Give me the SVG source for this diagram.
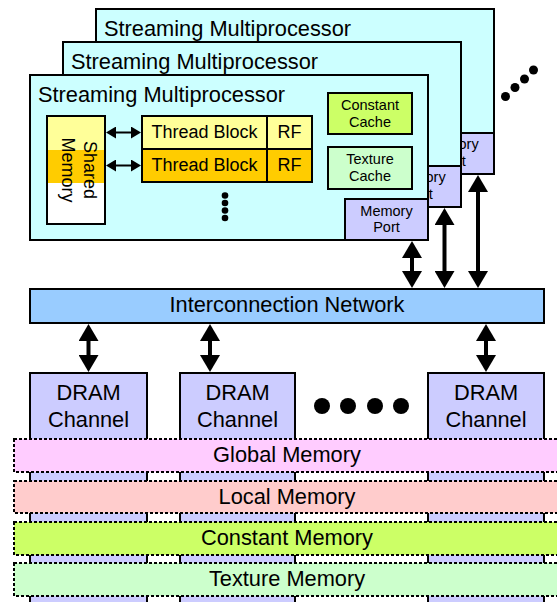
<svg xmlns="http://www.w3.org/2000/svg" width="557" height="602" viewBox="0 0 557 602">
<style>
text{font-family:"Liberation Sans",Arial,sans-serif;fill:#000}
.box{stroke:#000;stroke-width:2}
.sm{fill:#ccffff}
.port{fill:#ccccff}
.big{font-size:21.8px}
.mid{font-size:18px;text-anchor:middle}
.sml{font-size:14.5px;text-anchor:middle}
.c{text-anchor:middle}
.layer{stroke:#000;stroke-width:2;stroke-dasharray:3 2}
.arr{stroke:#000;stroke-width:4;fill:none}
.arr2{stroke:#000;stroke-width:2;fill:none}
</style>
<defs>
<marker id="hd" viewBox="0 0 17 20" refX="2" refY="10" markerWidth="17" markerHeight="20" markerUnits="userSpaceOnUse" orient="auto-start-reverse">
<path d="M0,0 L17,10 L0,20 z" fill="#000"/>
</marker>
<marker id="hs" viewBox="0 0 10 12" refX="1" refY="6" markerWidth="10" markerHeight="12" markerUnits="userSpaceOnUse" orient="auto-start-reverse">
<path d="M0,0 L10,6 L0,12 z" fill="#000"/>
</marker>
</defs>

<!-- DRAM channels (drawn first so memory layers sit on top) -->
<g id="dram1"><rect class="box port" x="30" y="373" width="117" height="240"/>
<text class="big c" x="88.5" y="399.5">DRAM</text><text class="big c" x="88.5" y="426.5">Channel</text></g>
<g id="dram2"><rect class="box port" x="180" y="373" width="115" height="240"/>
<text class="big c" x="237.5" y="399.5">DRAM</text><text class="big c" x="237.5" y="426.5">Channel</text></g>
<g id="dram3"><rect class="box port" x="428" y="373" width="116" height="240"/>
<text class="big c" x="486" y="399.5">DRAM</text><text class="big c" x="486" y="426.5">Channel</text></g>

<g id="dram-dots" fill="#000">
<circle cx="322" cy="406" r="8"/><circle cx="348" cy="406" r="8"/><circle cx="375" cy="406" r="8"/><circle cx="401" cy="406" r="8"/>
</g>

<!-- Memory spaces -->
<g id="global-memory"><rect class="layer" x="14" y="439" width="546" height="33" fill="#ffccff"/>
<text class="big c" x="287" y="462">Global Memory</text></g>
<g id="local-memory"><rect class="layer" x="14" y="481" width="546" height="32" fill="#ffcccc"/>
<text class="big c" x="287" y="503.5">Local Memory</text></g>
<g id="constant-memory"><rect class="layer" x="14" y="522" width="546" height="33" fill="#ccff66"/>
<text class="big c" x="287" y="545">Constant Memory</text></g>
<g id="texture-memory"><rect class="layer" x="14" y="563" width="546" height="33" fill="#ccffcc"/>
<text class="big c" x="287" y="586">Texture Memory</text></g>

<!-- Back SM -->
<g id="sm3">
<rect class="box sm" x="96" y="9" width="398" height="165"/>
<text class="big" x="104" y="36">Streaming Multiprocessor</text>
<rect class="box port" x="411" y="133" width="83" height="41"/>
<text class="sml" x="452.5" y="149">Memory</text><text class="sml" x="452.5" y="166">Port</text>
</g>
<!-- Middle SM -->
<g id="sm2">
<rect class="box sm" x="63" y="42" width="398" height="165"/>
<text class="big" x="71" y="69">Streaming Multiprocessor</text>
<rect class="box port" x="378" y="166" width="83" height="41"/>
<text class="sml" x="419.5" y="182">Memory</text><text class="sml" x="419.5" y="199">Port</text>
</g>
<!-- Front SM -->
<g id="sm1">
<rect class="box sm" x="30" y="75" width="398" height="165"/>
<text class="big" x="38" y="102">Streaming Multiprocessor</text>
</g>

<g id="shared-memory">
<rect x="47" y="116" width="58" height="34" fill="#ffff99"/>
<rect x="47" y="150" width="58" height="33" fill="#ffcc00"/>
<rect x="47" y="183" width="58" height="41" fill="#ffffff"/>
<rect x="47" y="116" width="58" height="108" fill="none" stroke="#000" stroke-width="2"/>
<text class="mid" transform="translate(83.5,170) rotate(90)">Shared</text>
<text class="mid" transform="translate(62,170) rotate(90)">Memory</text>
</g>

<g id="thread-block-1">
<rect class="box" x="142" y="116" width="125" height="33" fill="#ffff99"/>
<text class="mid" x="204.5" y="137.5">Thread Block</text>
</g>
<g id="rf-1">
<rect class="box" x="267" y="116" width="45" height="33" fill="#ffff99"/>
<text class="mid" x="289.5" y="137.5">RF</text>
</g>
<g id="thread-block-2">
<rect class="box" x="142" y="149" width="125" height="33" fill="#ffcc00"/>
<text class="mid" x="204.5" y="170.5">Thread Block</text>
</g>
<g id="rf-2">
<rect class="box" x="267" y="149" width="45" height="33" fill="#ffcc00"/>
<text class="mid" x="289.5" y="170.5">RF</text>
</g>
<g id="tb-dots" fill="#000">
<circle cx="225" cy="195.5" r="3.3"/><circle cx="225" cy="203" r="3.3"/><circle cx="225" cy="210.5" r="3.3"/><circle cx="225" cy="218" r="3.3"/>
</g>

<g id="constant-cache">
<rect class="box" x="328" y="93" width="84" height="41" fill="#ccff66"/>
<text class="sml" x="370" y="110">Constant</text><text class="sml" x="370" y="127">Cache</text>
</g>
<g id="texture-cache">
<rect class="box" x="328" y="147" width="84" height="42" fill="#ccffcc"/>
<text class="sml" x="370" y="164">Texture</text><text class="sml" x="370" y="181">Cache</text>
</g>
<g id="memory-port-1">
<rect class="box port" x="345" y="199" width="83" height="41"/>
<text class="sml" x="386.5" y="215.5">Memory</text><text class="sml" x="386.5" y="232">Port</text>
</g>

<g id="sm-dots" fill="#000">
<circle cx="505.5" cy="96.5" r="4.5"/><circle cx="515" cy="87.5" r="4.5"/><circle cx="524.5" cy="79" r="4.5"/><circle cx="533.5" cy="70" r="4.5"/>
</g>

<g id="interconnect">
<rect class="box" x="30" y="289" width="514" height="34" fill="#99ccff"/>
<text class="big c" x="287" y="312">Interconnection Network</text>
</g>

<g id="connectors">
<line class="arr2" x1="115" y1="132.5" x2="132" y2="132.5" marker-start="url(#hs)" marker-end="url(#hs)"/>
<line class="arr2" x1="115" y1="165.5" x2="132" y2="165.5" marker-start="url(#hs)" marker-end="url(#hs)"/>
<line class="arr" x1="412" y1="256" x2="412" y2="273" marker-start="url(#hd)" marker-end="url(#hd)"/>
<line class="arr" x1="444.5" y1="223" x2="444.5" y2="273" marker-start="url(#hd)" marker-end="url(#hd)"/>
<line class="arr" x1="478" y1="190" x2="478" y2="273" marker-start="url(#hd)" marker-end="url(#hd)"/>
<line class="arr" x1="88.5" y1="339" x2="88.5" y2="357" marker-start="url(#hd)" marker-end="url(#hd)"/>
<line class="arr" x1="210" y1="339" x2="210" y2="357" marker-start="url(#hd)" marker-end="url(#hd)"/>
<line class="arr" x1="486" y1="339" x2="486" y2="357" marker-start="url(#hd)" marker-end="url(#hd)"/>
</g>
</svg>
